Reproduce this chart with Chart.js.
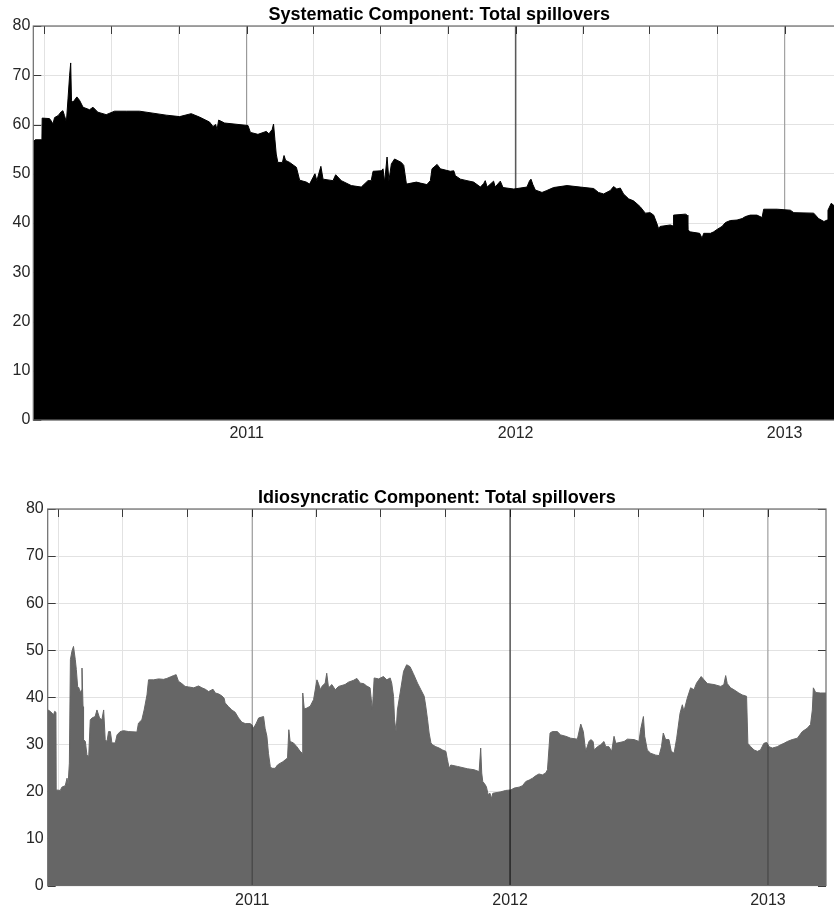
<!DOCTYPE html>
<html>
<head>
<meta charset="utf-8">
<script src="https://cdn.jsdelivr.net/npm/chart.js@4/dist/chart.umd.min.js"></script>
<style>
html,body{margin:0;padding:0;background:#fff;width:834px;height:913px;overflow:hidden;}
#wrap{position:relative;width:834px;height:913px;overflow:hidden;}
canvas{position:absolute;left:0;}
#c1{top:0;width:860px;height:455px;}
#c2{top:483px;width:834px;height:430px;}
</style>
</head>
<body>
<div id="wrap">
<canvas id="c1" width="860" height="455"></canvas>
<canvas id="c2" width="834" height="430"></canvas>
</div>
<script>
// ---- tick positions (decimal years: quarter starts) and labelled years ----
const quarterTicks = [2010.247, 2010.496, 2010.748, 2011, 2011.247, 2011.496, 2011.748, 2012, 2012.249, 2012.497, 2012.749, 2013];
const yearLabels = [2011, 2012, 2013];
const yearLines = [2011, 2012, 2013];
const yTicks = [0, 10, 20, 30, 40, 50, 60, 70, 80];

// ---- Systematic component (decimal year, value) ----
const sysYears = [2010.206,2010.214,2010.239,2010.240,2010.267,2010.274,2010.280,2010.286,2010.299,2010.311,2010.317,2010.323,2010.330,2010.336,2010.342,2010.346,2010.349,2010.354,2010.369,2010.379,2010.392,2010.416,2010.429,2010.447,2010.478,2010.509,2010.553,2010.602,2010.652,2010.701,2010.751,2010.794,2010.825,2010.862,2010.875,2010.885,2010.890,2010.896,2010.918,2011.005,2011.014,2011.042,2011.073,2011.083,2011.095,2011.100,2011.105,2011.110,2011.116,2011.133,2011.139,2011.145,2011.160,2011.185,2011.197,2011.222,2011.234,2011.254,2011.261,2011.276,2011.284,2011.321,2011.331,2011.352,2011.389,2011.426,2011.451,2011.463,2011.470,2011.501,2011.507,2011.513,2011.522,2011.529,2011.538,2011.550,2011.575,2011.584,2011.594,2011.631,2011.646,2011.670,2011.683,2011.689,2011.708,2011.720,2011.757,2011.770,2011.776,2011.795,2011.819,2011.844,2011.869,2011.881,2011.887,2011.894,2011.918,2011.924,2011.943,2011.953,2011.993,2012.042,2012.052,2012.057,2012.064,2012.073,2012.098,2012.116,2012.141,2012.191,2012.240,2012.290,2012.308,2012.327,2012.352,2012.364,2012.376,2012.389,2012.401,2012.420,2012.438,2012.451,2012.463,2012.482,2012.500,2012.513,2012.525,2012.531,2012.537,2012.575,2012.585,2012.587,2012.631,2012.637,2012.640,2012.649,2012.684,2012.693,2012.699,2012.724,2012.736,2012.749,2012.767,2012.780,2012.798,2012.823,2012.842,2012.854,2012.872,2012.897,2012.916,2012.922,2012.972,2013.021,2013.034,2013.108,2013.126,2013.146,2013.158,2013.161,2013.173,2013.182,2013.224];
const sysValues = [56.4,56.9,56.9,61.3,61.2,60.7,60.1,61.4,61.8,62.6,62.8,61.8,60.5,65.2,70.0,72.5,64.9,64.5,65.6,64.9,63.5,63.0,63.5,62.5,62.0,62.7,62.7,62.7,62.3,61.9,61.6,62.2,61.5,60.5,59.6,60.0,58.9,60.9,60.3,59.8,58.4,58.0,58.6,58.1,59.0,60.1,57.0,54.0,52.3,52.3,53.7,52.7,52.3,51.3,48.7,48.3,47.9,50.0,48.6,51.5,48.9,48.6,49.8,48.6,47.6,47.3,48.6,48.6,50.5,50.6,51.0,48.3,53.4,48.6,52.0,53.0,52.3,51.7,47.9,48.3,48.1,47.8,48.6,51.0,51.9,51.0,50.5,50.6,49.6,48.9,48.6,48.3,47.3,48.0,48.6,47.3,48.5,47.3,48.5,47.2,46.9,47.3,48.6,48.9,47.8,46.7,46.2,46.6,47.2,47.6,47.3,47.0,46.2,45.9,46.6,47.4,46.9,47.1,45.9,44.9,44.5,43.9,43.3,42.0,42.1,41.6,39.9,38.9,39.3,39.6,39.4,41.6,41.8,41.6,38.6,38.2,37.9,36.9,37.9,37.9,38.2,38.7,39.3,40.1,40.5,40.6,40.9,41.3,41.6,41.6,41.1,42.8,42.8,42.6,42.1,42.0,40.9,40.3,40.6,42.6,44.0,43.6,43.5];

// ---- Idiosyncratic component (decimal year, value) ----
const idioYears = [2010.208,2010.217,2010.224,2010.230,2010.234,2010.239,2010.240,2010.256,2010.262,2010.275,2010.282,2010.286,2010.291,2010.295,2010.301,2010.307,2010.314,2010.318,2010.323,2010.328,2010.333,2010.337,2010.340,2010.344,2010.346,2010.353,2010.359,2010.366,2010.372,2010.379,2010.391,2010.398,2010.408,2010.417,2010.424,2010.430,2010.437,2010.443,2010.450,2010.456,2010.469,2010.476,2010.488,2010.501,2010.521,2010.553,2010.559,2010.572,2010.581,2010.592,2010.598,2010.618,2010.637,2010.656,2010.669,2010.682,2010.695,2010.705,2010.714,2010.727,2010.740,2010.753,2010.773,2010.792,2010.805,2010.818,2010.831,2010.848,2010.857,2010.870,2010.882,2010.891,2010.895,2010.908,2010.921,2010.934,2010.947,2010.960,2010.973,2010.992,2010.999,2011.005,2011.016,2011.025,2011.044,2011.050,2011.057,2011.063,2011.070,2011.076,2011.089,2011.098,2011.109,2011.119,2011.128,2011.137,2011.142,2011.147,2011.160,2011.173,2011.186,2011.194,2011.196,2011.202,2011.212,2011.225,2011.238,2011.251,2011.257,2011.264,2011.270,2011.283,2011.289,2011.296,2011.309,2011.322,2011.335,2011.360,2011.373,2011.393,2011.406,2011.419,2011.432,2011.444,2011.457,2011.466,2011.473,2011.490,2011.509,2011.522,2011.535,2011.541,2011.548,2011.552,2011.558,2011.563,2011.571,2011.587,2011.599,2011.612,2011.625,2011.641,2011.654,2011.667,2011.673,2011.680,2011.686,2011.693,2011.699,2011.712,2011.725,2011.738,2011.751,2011.757,2011.764,2011.770,2011.796,2011.835,2011.860,2011.880,2011.886,2011.890,2011.894,2011.900,2011.908,2011.915,2011.922,2011.928,2011.933,2011.964,2011.983,2012.003,2012.016,2012.035,2012.048,2012.061,2012.074,2012.087,2012.099,2012.112,2012.125,2012.138,2012.145,2012.155,2012.164,2012.183,2012.196,2012.216,2012.235,2012.261,2012.274,2012.284,2012.293,2012.306,2012.313,2012.322,2012.326,2012.339,2012.351,2012.364,2012.371,2012.383,2012.394,2012.403,2012.410,2012.442,2012.455,2012.481,2012.500,2012.506,2012.517,2012.522,2012.532,2012.545,2012.565,2012.578,2012.587,2012.594,2012.603,2012.616,2012.625,2012.636,2012.646,2012.659,2012.668,2012.674,2012.687,2012.700,2012.713,2012.723,2012.732,2012.741,2012.752,2012.765,2012.791,2012.817,2012.829,2012.836,2012.842,2012.855,2012.868,2012.887,2012.900,2012.917,2012.922,2012.933,2012.946,2012.959,2012.971,2012.984,2012.995,2013.004,2013.017,2013.036,2013.049,2013.062,2013.075,2013.094,2013.114,2013.133,2013.152,2013.165,2013.172,2013.176,2013.185,2013.204,2013.225];
const idioValues = [37.3,37.0,36.6,36.3,37.0,36.8,20.3,20.2,20.9,21.2,22.8,21.4,26.0,48.0,49.8,50.8,48.0,45.9,42.3,42.0,40.9,41.5,46.2,38.0,31.0,30.6,27.8,27.4,35.2,35.6,35.9,37.3,35.6,35.2,37.3,31.0,30.6,32.7,32.7,30.3,30.3,32.0,32.7,32.9,32.7,32.6,34.5,35.2,37.3,40.5,43.7,43.7,43.9,43.8,44.0,44.3,44.6,44.8,43.4,42.9,42.3,42.2,42.0,42.4,42.0,41.7,41.2,41.7,40.9,40.7,40.3,39.8,38.8,38.0,37.3,36.8,35.6,34.7,34.4,34.4,34.1,33.4,34.5,35.6,35.9,33.4,31.7,28.1,25.3,24.9,24.9,25.6,26.0,26.3,26.7,27.1,33.1,30.6,30.3,29.5,28.5,28.1,40.9,37.5,37.7,38.1,39.5,43.7,42.9,41.6,42.3,43.0,45.1,42.0,42.7,41.6,42.3,42.7,43.2,43.6,44.0,43.0,42.9,42.4,42.0,37.3,44.1,43.9,44.4,43.7,44.1,43.0,40.2,35.2,32.7,37.3,40.0,45.5,46.9,46.5,45.0,43.0,41.6,40.2,38.1,35.2,32.4,30.3,29.9,29.5,29.2,28.8,28.5,26.7,24.9,25.6,25.3,24.8,24.6,24.2,29.2,23.9,22.1,21.7,21.0,19.3,19.6,18.5,19.6,19.9,20.2,20.3,20.7,20.9,21.2,22.1,22.4,22.8,23.3,23.7,23.5,23.9,24.6,32.4,32.7,32.7,32.0,31.7,31.3,31.1,34.3,32.7,28.5,30.6,31.0,30.6,28.8,29.5,29.9,30.6,29.5,29.5,28.5,31.7,30.2,30.6,31.1,31.0,30.6,33.1,35.9,31.7,28.8,28.1,27.7,27.6,29.5,32.4,31.0,31.0,28.5,28.1,31.3,36.6,38.4,37.0,39.8,42.0,41.6,43.0,43.7,44.4,43.7,42.9,42.7,42.3,42.7,44.6,42.9,42.0,41.6,40.9,40.5,40.2,30.2,29.5,28.8,28.5,28.8,30.2,30.4,29.5,29.2,29.5,29.9,30.2,30.6,31.0,31.3,32.7,33.4,34.2,37.3,42.0,41.0,40.9,40.9];

const X_MIN = 2010.207, X_MAX = 2013.225;
const FONT = '"Liberation Sans", Arial, Helvetica, sans-serif';

// MATLAB-like box with inward tick marks
const boxPlugin = {
  id: 'mbox',
  beforeDatasetsDraw(chart, args, opts) {
    const {ctx, chartArea: a} = chart;
    const x = chart.scales.x, y = chart.scales.y;
    const L = opts.tickLen || 8;
    ctx.save();
    ctx.strokeStyle = '#3a3a3a';
    ctx.lineWidth = 1;
    ctx.beginPath();
    x.ticks.forEach(t => {
      const px = Math.round(x.getPixelForValue(t.value)) + 0.5;
      ctx.moveTo(px, a.top); ctx.lineTo(px, a.top + L);
      ctx.moveTo(px, a.bottom); ctx.lineTo(px, a.bottom - L);
    });
    y.ticks.forEach(t => {
      const py = Math.round(y.getPixelForValue(t.value)) + 0.5;
      ctx.moveTo(a.left, py); ctx.lineTo(a.left + L, py);
      ctx.moveTo(a.right, py); ctx.lineTo(a.right - L, py);
    });
    ctx.stroke();
    ctx.restore();
  },
  afterDatasetsDraw(chart) {
    const {ctx, chartArea: a} = chart;
    ctx.save();
    ctx.strokeStyle = '#6a6a6a';
    ctx.lineWidth = 1.2;
    ctx.strokeRect(a.left, a.top, a.right - a.left, a.bottom - a.top);
    ctx.restore();
  }
};

function yearLineDatasets() {
  const styles = {2011: ['rgba(0,0,0,0.33)', 1.2], 2012: ['rgba(0,0,0,0.6)', 1.6], 2013: ['rgba(0,0,0,0.3)', 1.2]};
  return yearLines.map(yr => ({
    data: [{x: yr, y: 0}, {x: yr, y: 80}],
    borderColor: styles[yr][0],
    borderWidth: styles[yr][1],
    pointRadius: 0,
    fill: false,
    order: 0
  }));
}

function makeChart(id, cfg) {
  const pts = cfg.years.map((yr, i) => ({x: yr, y: cfg.values[i]}));
  return new Chart(document.getElementById(id), {
    type: 'line',
    data: {
      datasets: [{
        data: pts,
        borderColor: cfg.fillColor,
        backgroundColor: cfg.fillColor,
        borderWidth: 1,
        pointRadius: 0,
        tension: 0,
        fill: 'origin',
        order: 1
      }].concat(yearLineDatasets())
    },
    options: {
      responsive: false,
      animation: false,
      events: [],
      layout: {padding: cfg.padding},
      plugins: {
        legend: {display: false},
        tooltip: {enabled: false},
        title: {
          display: true,
          text: cfg.title,
          fullSize: false,
          color: '#000',
          font: {family: FONT, size: 18, weight: 'bold'},
          padding: cfg.titlePad
        },
        mbox: {tickLen: 8}
      },
      scales: {
        x: {
          type: 'linear',
          min: X_MIN,
          max: X_MAX,
          afterBuildTicks: s => { s.ticks = quarterTicks.map(v => ({value: v})); },
          afterFit: s => { s.height = cfg.xAxisH; },
          ticks: {
            autoSkip: false,
            maxRotation: 0,
            padding: cfg.xLabelPad,
            color: '#262626',
            font: {family: FONT, size: 16},
            callback: v => yearLabels.includes(v) ? String(v) : ''
          },
          grid: {color: '#e2e2e2', lineWidth: 1, drawTicks: false},
          border: {display: false}
        },
        y: {
          min: 0,
          max: 80,
          afterBuildTicks: s => { s.ticks = yTicks.map(v => ({value: v})); },
          afterFit: s => { s.width = cfg.yAxisW; },
          ticks: {
            padding: cfg.yLabelPad,
            color: '#262626',
            font: {family: FONT, size: 16}
          },
          grid: {color: '#e2e2e2', lineWidth: 1, drawTicks: false},
          border: {display: false}
        }
      }
    },
    plugins: [boxPlugin]
  });
}

makeChart('c1', {
  years: sysYears, values: sysValues, fillColor: '#000000',
  title: 'Systematic Component: Total spillovers',
  titlePad: {top: 3.9, bottom: 0.5},
  padding: {left: 0, right: 14.8, top: 0, bottom: 5},
  xAxisH: 30, yAxisW: 33.3, xLabelPad: 4.4, yLabelPad: 3
});

makeChart('c2', {
  years: idioYears, values: idioValues, fillColor: '#666666',
  title: 'Idiosyncratic Component: Total spillovers',
  titlePad: {top: 4.4, bottom: 0},
  padding: {left: 0, right: 8, top: 0, bottom: 0},
  xAxisH: 27.5, yAxisW: 47.7, xLabelPad: 5.9, yLabelPad: 4
});
</script>
</body>
</html>
